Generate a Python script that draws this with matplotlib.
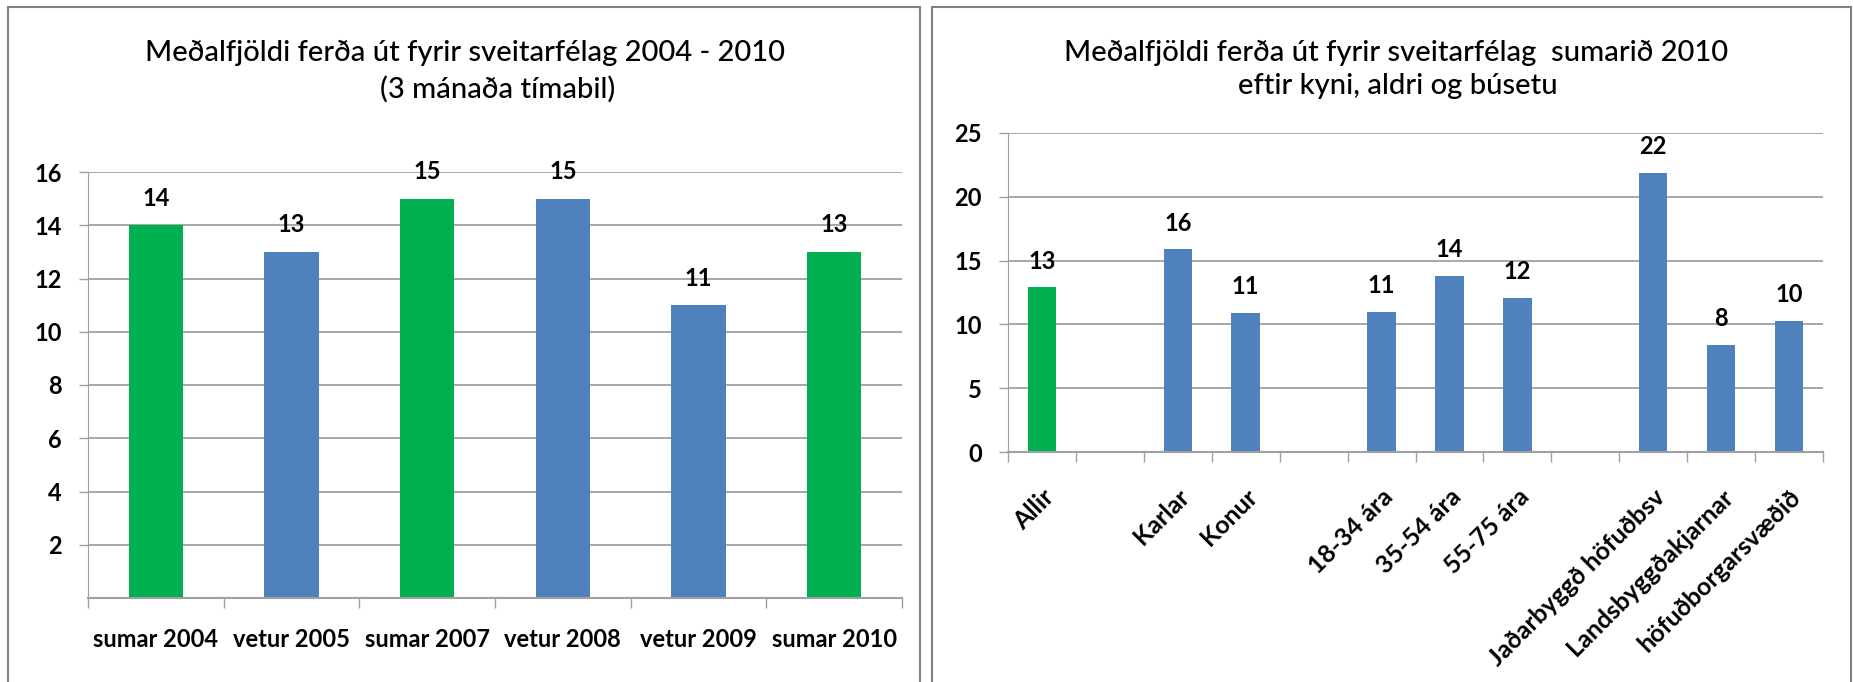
import matplotlib
matplotlib.use('Agg')
import matplotlib.pyplot as plt
from matplotlib.patches import Rectangle
import numpy as np

plt.rcParams['font.family'] = ['Lato', 'DejaVu Sans']

# vinstri mynd
timabil = ['sumar 2004', 'vetur 2005', 'sumar 2007', 'vetur 2008', 'vetur 2009', 'sumar 2010']
ferdir = [14, 13, 15, 15, 11, 13]
litir_v = ['#00B050', '#4F81BD', '#00B050', '#4F81BD', '#4F81BD', '#00B050']

# haegri mynd
hopar = ['Allir', '', 'Karlar', 'Konur', '', '18-34 ára', '35-54 ára', '55-75 ára', '',
         'Jaðarbyggð höfuðbsv', 'Landsbyggðakjarnar', 'höfuðborgarsvæðið']
ferdir_h = [12.9, np.nan, 15.9, 10.9, np.nan, 11.0, 13.8, 12.1, np.nan, 21.9, 8.4, 10.3]
litir_h = ['#00B050'] + ['#4F81BD'] * 11

W, H = 1853, 682
fig = plt.figure(figsize=(W / 100, H / 100), dpi=100)
grid_c = '#A0A0A0'


def px(x0, y0, x1, y1):
    # pixel box -> figure fraction
    return [x0 / W, 1 - y1 / H, (x1 - x0) / W, (y1 - y0) / H]


def stilla(ax, n):
    ax.set_xlim(-0.5, n - 0.5)
    ax.set_xticks(np.arange(n))
    ax.set_xticks(np.arange(n + 1) - 0.5, minor=True)
    ax.tick_params(axis='x', which='major', length=0)
    ax.tick_params(axis='x', which='minor', length=10 * 0.72, color=grid_c, width=1)
    ax.tick_params(axis='y', length=9 * 0.72, color=grid_c, width=1, pad=17 * 0.72,
                   labelsize=17)
    for s in ['top', 'right']:
        ax.spines[s].set_visible(False)
    ax.spines['left'].set_color(grid_c)
    ax.spines['bottom'].set_color(grid_c)
    ax.spines['bottom'].set_linewidth(1.5)
    ax.yaxis.grid(True, color=grid_c, linewidth=1.3)
    ax.set_axisbelow(True)
    for t in ax.get_yticklabels():
        t.set_fontweight('bold')


# --- vinstri ---
ax1 = fig.add_axes(px(88, 172, 902, 598))
x1 = np.arange(len(timabil))
b1 = ax1.bar(x1, ferdir, width=0.4, color=litir_v)
ax1.set_ylim(0, 16)
ax1.set_yticks(range(2, 17, 2))
stilla(ax1, len(timabil))
ax1.set_xticklabels(timabil, fontsize=17, fontweight='bold')
ax1.tick_params(axis='x', which='major', pad=30 * 0.72)
for r, v in zip(b1, ferdir):
    ax1.annotate('%d' % v, (r.get_x() + r.get_width() / 2, v), xytext=(0, 27 * 0.72),
                 textcoords='offset points', ha='center', va='center',
                 fontsize=17, fontweight='bold')

# --- haegri ---
ax2 = fig.add_axes(px(1008, 133, 1823, 452))
x2 = np.arange(len(hopar))
b2 = ax2.bar(x2, np.nan_to_num(ferdir_h), width=0.42, color=litir_h)
ax2.set_ylim(0, 25)
ax2.set_yticks(range(0, 26, 5))
stilla(ax2, len(hopar))
ax2.set_xticklabels(hopar, fontsize=18, fontweight='bold', rotation=45,
                    ha='right', va='top', rotation_mode='anchor')
ax2.tick_params(axis='x', which='major', pad=33 * 0.72)
for r, v in zip(b2, ferdir_h):
    if np.isnan(v):
        continue
    ax2.annotate('%.0f' % v, (r.get_x() + r.get_width() / 2, v), xytext=(0, 26 * 0.72),
                 textcoords='offset points', ha='center', va='center',
                 fontsize=17, fontweight='bold')

# titlar
fig.text(465 / W, 1 - 53 / H, 'Meðalfjöldi ferða út fyrir sveitarfélag 2004 - 2010',
         ha='center', va='center', fontsize=21, fontweight='medium')
fig.text(498 / W, 1 - 89 / H, '(3 mánaða tímabil)', ha='center', va='center',
         fontsize=21, fontweight='medium')
fig.text(1396 / W, 1 - 53 / H, 'Meðalfjöldi ferða út fyrir sveitarfélag  sumarið 2010',
         ha='center', va='center', fontsize=21, fontweight='medium')
fig.text(1398 / W, 1 - 86 / H, 'eftir kyni, aldri og búsetu', ha='center', va='center',
         fontsize=21, fontweight='medium')

# rammar
for x0, x1_ in [(8, 920), (932, 1851)]:
    fig.add_artist(Rectangle((x0 / W, -0.02), (x1_ - x0) / W, 1.02 - 7 / H,
                             transform=fig.transFigure, fill=False,
                             edgecolor='#808080', linewidth=1.5))

fig.savefig('out.png', dpi=100)
